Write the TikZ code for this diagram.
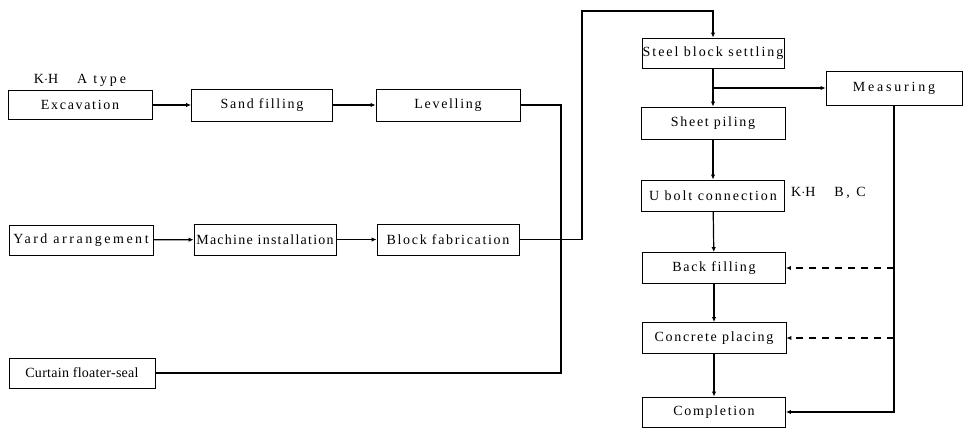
\documentclass[tikz,border=0pt]{standalone}
\usepackage{fontspec}
\setmainfont{Liberation Serif}[LetterSpace=12]
\usetikzlibrary{arrows.meta}
\begin{document}
\begin{tikzpicture}[x=1pt,y=-1pt,
  box/.style={draw,line width=0.9pt,inner sep=0pt,font=\fontsize{14}{16}\selectfont},
  lbl/.style={inner sep=0pt,font=\fontsize{14}{16}\selectfont},
  conn/.style={line width=1.2pt},
  arr/.style={conn,-{Latex[length=5pt,width=4.5pt]}},
  darr/.style={line width=1.1pt,dash pattern=on 7pt off 6pt,-{Latex[length=5pt,width=4.5pt]}}]
\useasboundingbox (0,0) rectangle (964,428);
% left column
\node[box,minimum width=144pt,minimum height=29pt] (exc) at (80,105) {Excavation};
\node[box,minimum width=141pt,minimum height=32pt] (sand) at (262,105) {Sand filling};
\node[box,minimum width=144pt,minimum height=32pt] (lev) at (448,105) {Levelling};
\node[box,minimum width=144pt,minimum height=30pt] (yard) at (81,240) {\addfontfeature{LetterSpace=18}Yard arrangement};
\node[box,minimum width=142pt,minimum height=31pt] (mach) at (265,239.5) {\addfontfeature{LetterSpace=9}Machine installation};
\node[box,minimum width=142pt,minimum height=31pt] (blk) at (448,239.5) {Block fabrication};
\node[box,minimum width=146pt,minimum height=30pt] (cur) at (82,373) {\addfontfeature{LetterSpace=2}Curtain floater-seal};
% right column
\node[box,minimum width=142pt,minimum height=30pt] (steel) at (713,53) {\addfontfeature{LetterSpace=14}Steel block settling};
\node[box,minimum width=136pt,minimum height=34pt] (meas) at (894,88) {\addfontfeature{LetterSpace=20}Measuring};
\node[box,minimum width=144pt,minimum height=32pt] (sheet) at (713,123) {Sheet piling};
\node[box,minimum width=143pt,minimum height=31pt] (ubolt) at (713,195.5) {\addfontfeature{LetterSpace=14}U bolt connection};
\node[box,minimum width=143pt,minimum height=31pt] (back) at (714,268) {Back filling};
\node[box,minimum width=144pt,minimum height=31pt] (conc) at (714,338) {Concrete placing};
\node[box,minimum width=143pt,minimum height=30pt] (comp) at (714,412) {Completion};
% labels
\node[lbl] (ka) at (80,80) {\addfontfeature{LetterSpace=20}K$\cdot$H\ \ \ A type};
\node[lbl,anchor=west] (kb) at (791,193) {\addfontfeature{LetterSpace=20}K$\cdot$H\ \ \ B, C};
% coordinates
\coordinate (j1) at (561,373);
\coordinate (t1) at (582,11);
% connectors
\draw[arr] (exc) -- (sand);
\draw[arr] (sand) -- (lev);
\draw[arr] (yard) -- (mach);
\draw[arr] (mach) -- (blk);
\draw[conn] (lev.east) -| (j1) -- (cur.east);
\draw[arr] (blk.east) -| (t1) -| (steel.north);
\draw[arr] (steel) -- (sheet);
\coordinate (br) at (steel.south |- meas.west);
\draw[arr] (br) -- (meas.west);
\draw[arr] (sheet) -- (ubolt);
\draw[arr] (ubolt) -- (back);
\draw[arr] (back) -- (conc);
\draw[arr] (conc) -- (comp);
\draw[arr] (meas.south) |- (comp.east);
\coordinate (d1) at (meas.south |- back.east);
\coordinate (d2) at (meas.south |- conc.east);
\draw[darr] (d1) -- (back.east);
\draw[darr] (d2) -- (conc.east);
\end{tikzpicture}
\end{document}
